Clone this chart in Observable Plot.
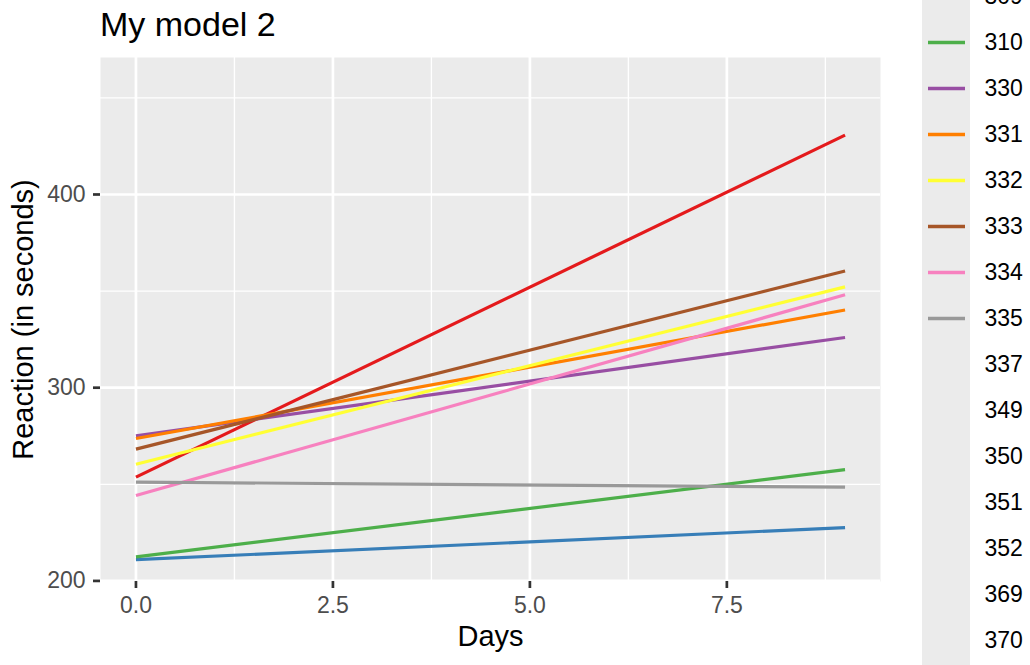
<!DOCTYPE html>
<html>
<head>
<meta charset="utf-8">
<script src="https://cdn.jsdelivr.net/npm/d3@7"></script>
<script src="https://cdn.jsdelivr.net/npm/@observablehq/plot@0.6"></script>
<style>
  html, body { margin: 0; padding: 0; background: #fff; }
  #chart { position: relative; width: 1030px; height: 665px; overflow: hidden; font-family: "Liberation Sans", Arial, sans-serif; }
  #title { position: absolute; left: 100px; top: 7px; font-size: 34px; line-height: 1; color: #000; white-space: nowrap; }
  #main { position: absolute; left: 0; top: 0; }
  #legend { position: absolute; left: 922px; top: -73px; }
</style>
</head>
<body>
<div id="chart">
  <div id="main"></div>
  <div id="legend"></div>
  <div id="title">My model 2</div>
</div>
<script>
// Fitted reaction-time lines per subject (sleep study), at day 0 and day 9
const subjects = ["308", "309", "310", "330", "331", "332", "333", "334", "335"];
const reactionDay0 = [253.7, 211.0, 212.4, 275.1, 273.7, 260.4, 268.2, 244.2, 251.1];
const reactionDay9 = [430.7, 227.6, 257.6, 326.0, 340.2, 352.2, 360.4, 348.1, 248.5];
const days = [0, 9];

// Every subject in the legend; only the first nine get a Set1 colour
const legendSubjects = ["308", "309", "310", "330", "331", "332", "333", "334", "335",
                        "337", "349", "350", "351", "352", "369", "370", "371", "372"];
const set1 = ["#E41A1C", "#377EB8", "#4DAF4A", "#984EA3", "#FF7F00", "#FFFF33", "#A65628", "#F781BF", "#999999"];

// Axis ticks and grid
const xTicks = [0, 2.5, 5, 7.5];
const xMinor = [1.25, 3.75, 6.25, 8.75];
const yTicks = [200, 300, 400];
const yMinor = [250, 350, 450];

const rows = subjects.flatMap((s, i) => [
  {subject: s, day: days[0], reaction: reactionDay0[i]},
  {subject: s, day: days[1], reaction: reactionDay9[i]}
]);

const font = "'Liberation Sans', Arial, sans-serif";

const main = Plot.plot({
  width: 900,
  height: 665,
  marginLeft: 100,
  marginRight: 20,
  marginTop: 57,
  marginBottom: 84,
  style: {fontFamily: font, background: "transparent"},
  x: {domain: [-0.45, 9.45]},
  y: {domain: [199.7, 470.9]},
  color: {domain: subjects, range: set1},
  marks: [
    Plot.frame({fill: "#EBEBEB", stroke: null}),
    Plot.gridX(xMinor, {stroke: "#fff", strokeOpacity: 1, strokeWidth: 1.35}),
    Plot.gridY(yMinor, {stroke: "#fff", strokeOpacity: 1, strokeWidth: 1.35}),
    Plot.gridX(xTicks, {stroke: "#fff", strokeOpacity: 1, strokeWidth: 2.7}),
    Plot.gridY(yTicks, {stroke: "#fff", strokeOpacity: 1, strokeWidth: 2.7}),
    Plot.axisX({ticks: xTicks, tickFormat: d3.format(".1f"), tickSize: 7, tickPadding: 8,
                stroke: "#333333", strokeWidth: 2.7, fill: "#4D4D4D", fontSize: 23, label: null}),
    Plot.axisY({ticks: yTicks, tickSize: 7, tickPadding: 8,
                stroke: "#333333", strokeWidth: 2.7, fill: "#4D4D4D", fontSize: 23, label: null}),
    Plot.line(rows, {x: "day", y: "reaction", z: "subject", stroke: "subject",
                     strokeWidth: 3.2, strokeLinecap: "butt"}),
    Plot.text(["Days"], {frameAnchor: "bottom", dy: 55, lineAnchor: "middle",
                         fontSize: 29, fill: "#000"}),
    Plot.text(["Reaction (in seconds)"], {frameAnchor: "left", dx: -77, rotate: -90,
                                          textAnchor: "middle", lineAnchor: "middle",
                                          fontSize: 29, fill: "#000"})
  ]
});
document.getElementById("main").append(main);

// Legend: grey key column, coloured key lines, subject labels
const legend = Plot.plot({
  width: 108,
  height: legendSubjects.length * 46,
  marginLeft: 0,
  marginRight: 60,
  marginTop: 0,
  marginBottom: 0,
  style: {fontFamily: font, background: "transparent", overflow: "visible"},
  y: {type: "band", domain: legendSubjects, padding: 0, axis: null},
  color: {domain: subjects, range: set1},
  marks: [
    Plot.cell(legendSubjects, {y: d => d, fill: "#EBEBEB"}),
    Plot.tickY(subjects, {y: d => d, stroke: d => d, strokeWidth: 3.3,
                          insetLeft: 6, insetRight: 5}),
    Plot.text(legendSubjects, {y: d => d, frameAnchor: "right", dx: 14, textAnchor: "start",
                               lineAnchor: "middle", fontSize: 23, fill: "#000"})
  ]
});
document.getElementById("legend").append(legend);
</script>
</body>
</html>
